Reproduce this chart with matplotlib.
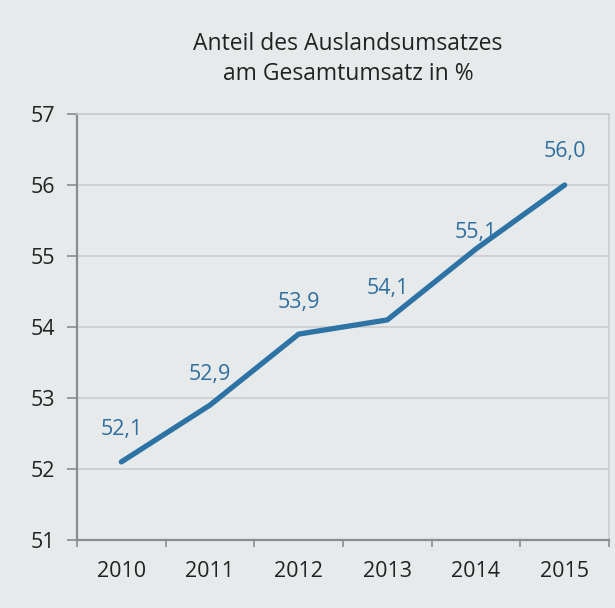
import matplotlib
matplotlib.use("Agg")
import matplotlib.pyplot as plt
from matplotlib.ticker import FixedLocator, NullFormatter

plt.rcParams['font.family'] = ['Open Sans', 'DejaVu Sans']

years = ["2010", "2011", "2012", "2013", "2014", "2015"]
values = [52.1, 52.9, 53.9, 54.1, 55.1, 56.0]
value_labels = ["52,1", "52,9", "53,9", "54,1", "55,1", "56,0"]
yticks = [51, 52, 53, 54, 55, 56, 57]
title_lines = ["Anteil des Auslandsumsatzes", "am Gesamtumsatz in %"]

# styling
label_offsets_px = [32, 31, 32, 31, 16, 33]
bg = "#e7eaeb"
line_color = "#2d73a6"
label_color = "#2f6f9f"
text_color = "#222222"
grid_color = "#c9cbcc"
spine_color = "#8a8c8d"

dpi = 100
W, H = 615, 608
fig = plt.figure(figsize=(W / dpi, H / dpi), dpi=dpi, facecolor=bg)
ax = fig.add_axes([77/W, 1 - 540/H, (609-77)/W, (540-114)/H])
ax.set_facecolor(bg)

x = list(range(len(years)))
ax.plot(x, values, color=line_color, linewidth=3.8, solid_capstyle='round',
        solid_joinstyle='miter', zorder=3)

for xi, v, lab, off in zip(x, values, value_labels, label_offsets_px):
    ax.annotate(lab, (xi, v), xytext=(0, off * 72 / dpi), textcoords='offset points',
                ha='center', va='center', fontsize=15.5, color=label_color)

ax.set_xlim(-0.5, len(years) - 0.5)
ax.set_ylim(yticks[0], yticks[-1])
ax.set_yticks(yticks)
ax.set_yticklabels([str(t) for t in yticks])

ax.xaxis.set_major_locator(FixedLocator([i - 0.5 for i in range(len(years) + 1)]))
ax.xaxis.set_major_formatter(NullFormatter())
ax.xaxis.set_minor_locator(FixedLocator(x))
ax.set_xticklabels(years, minor=True)
ax.tick_params(axis='x', which='major', length=5, width=1.2, color=spine_color, direction='out')
ax.tick_params(axis='x', which='minor', length=0, pad=15, labelsize=15.5, labelcolor=text_color)
ax.tick_params(axis='y', length=7, width=1.2, color=spine_color, pad=9, labelsize=15.5,
               labelcolor=text_color)

ax.grid(axis='y', color=grid_color, linewidth=1.2, zorder=0)
ax.set_axisbelow(True)
for s in ['left', 'bottom']:
    ax.spines[s].set_color(spine_color)
    ax.spines[s].set_linewidth(1.6)
for s in ['top', 'right']:
    ax.spines[s].set_color(grid_color)
    ax.spines[s].set_linewidth(1.2)

for line, base_y in zip(title_lines, [50, 80]):
    fig.text(348/W, 1 - base_y/H, line, ha='center', va='baseline', fontsize=16.5,
             color=text_color)

fig.savefig("out.png", dpi=dpi, facecolor=bg)
